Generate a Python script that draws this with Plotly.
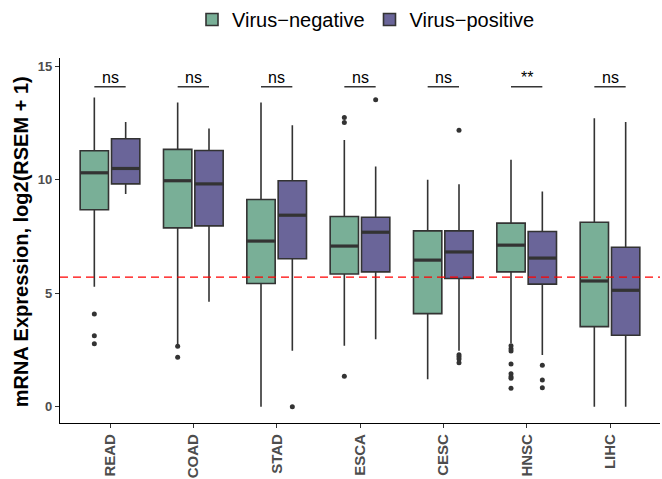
import plotly.graph_objects as go

categories = ["READ", "COAD", "STAD", "ESCA", "CESC", "HNSC", "LIHC"]

neg_q1 = [8.68, 7.88, 5.43, 5.85, 4.10, 5.94, 3.53]
neg_med = [10.31, 9.96, 7.30, 7.08, 6.46, 7.12, 5.54]
neg_q3 = [11.28, 11.34, 9.13, 8.38, 7.75, 8.09, 8.13]
neg_lo = [5.29, 2.72, 0.0, 2.68, 1.21, 2.80, 0.0]
neg_hi = [13.63, 13.41, 13.41, 11.75, 10.0, 10.88, 12.71]

pos_q1 = [9.82, 7.97, 6.52, 5.94, 5.65, 5.40, 3.15]
pos_med = [10.50, 9.82, 8.44, 7.69, 6.82, 6.55, 5.13]
pos_q3 = [11.81, 11.29, 9.96, 8.35, 7.75, 7.72, 7.03]
pos_lo = [9.37, 4.63, 2.46, 2.97, 2.47, 2.28, 0.0]
pos_hi = [12.55, 12.26, 12.40, 10.59, 9.81, 9.49, 12.55]

neg_outliers = {
    "READ": [4.09, 3.13, 2.77],
    "COAD": [2.66, 2.18],
    "ESCA": [12.75, 12.53, 1.34],
    "HNSC": [2.68, 2.55, 2.45, 1.88, 1.45, 1.32, 1.25, 0.81],
}
pos_outliers = {
    "STAD": [0.0],
    "ESCA": [13.53],
    "CESC": [12.19, 2.29, 2.20, 2.10, 1.94],
    "HNSC": [1.83, 1.18, 0.83],
}

sig_labels = ["ns", "ns", "ns", "ns", "ns", "**", "ns"]
ref_value = 5.71
y_title = "mRNA Expression, log2(RSEM + 1)"

series_names = ["Virus\u2212negative", "Virus\u2212positive"]
fill_colors = ["#79AF97", "#6A6599"]

FONT = "Liberation Sans"
OFF = 0.188
BW = 0.34
EDGE = "#333333"

idx = list(range(1, len(categories) + 1))
fig = go.Figure()

groups = [
    (neg_q1, neg_med, neg_q3, neg_lo, neg_hi, neg_outliers, -OFF),
    (pos_q1, pos_med, pos_q3, pos_lo, pos_hi, pos_outliers, OFF),
]

for g, (q1, med, q3, lo, hi, outl, off) in enumerate(groups):
    xs = [i + off for i in idx]
    fig.add_trace(go.Box(
        x=xs, q1=q1, median=med, q3=q3, lowerfence=lo, upperfence=hi,
        width=BW, whiskerwidth=0, fillcolor=fill_colors[g],
        line=dict(color=EDGE, width=1.6), name=series_names[g],
        boxpoints=False, hoverinfo="skip",
    ))

for g, (q1, med, q3, lo, hi, outl, off) in enumerate(groups):
    xs = [i + off for i in idx]
    mx, my = [], []
    for x, m in zip(xs, med):
        mx += [x - BW / 2, x + BW / 2, None]
        my += [m, m, None]
    fig.add_trace(go.Scatter(x=mx, y=my, mode="lines",
                             line=dict(color=EDGE, width=3.2),
                             showlegend=False, hoverinfo="skip"))
    ox, oy = [], []
    for cat, vals in outl.items():
        ci = categories.index(cat) + 1
        for v in vals:
            ox.append(ci + off)
            oy.append(v)
    fig.add_trace(go.Scatter(x=ox, y=oy, mode="markers",
                             marker=dict(color=EDGE, size=5),
                             showlegend=False, hoverinfo="skip"))

for i, lab in zip(idx, sig_labels):
    fig.add_shape(type="line", x0=i - OFF, x1=i + OFF, y0=14.1, y1=14.1,
                  xref="x", yref="y", line=dict(color="black", width=1.2))
    fig.add_annotation(x=i, y=14.1, text=lab, showarrow=False, xref="x", yref="y",
                       yanchor="bottom", yshift=-1,
                       font=dict(family=FONT, size=16, color="black"))

fig.add_shape(type="line", xref="paper", x0=0, x1=1, yref="y", y0=ref_value, y1=ref_value,
              line=dict(color="red", width=1.3, dash="8px,5px"))

fig.add_annotation(text=y_title, textangle=-90, xref="paper", yref="paper",
                   x=-0.065, y=0.495, xanchor="center", yanchor="middle", showarrow=False,
                   font=dict(family=FONT, size=20, color="black", weight="bold"))

fig.update_layout(
    width=662, height=479,
    margin=dict(l=60, r=2, t=58, b=56),
    paper_bgcolor="white", plot_bgcolor="white",
    font=dict(family=FONT, color="black"),
    legend=dict(orientation="h", x=0.51, xanchor="center", y=1.0, yanchor="top",
                yref="container", font=dict(family=FONT, size=20, color="black"),
                itemwidth=30),
    boxmode="overlay",
)

fig.update_xaxes(range=[0.4, 7.6], tickmode="array", tickvals=idx, ticktext=categories,
                 tickangle=-90, showline=True, linecolor="black", linewidth=1.2,
                 ticks="outside", ticklen=4, tickcolor="#333333", showgrid=False, zeroline=False,
                 automargin=False,
                 tickfont=dict(family=FONT, size=15, color="#4D4D4D", weight="bold"))
fig.update_yaxes(range=[-0.72, 15.37], tickvals=[0, 5, 10, 15],
                 showline=True, linecolor="black", linewidth=1.2,
                 ticks="outside", ticklen=4, tickcolor="#333333", showgrid=False, zeroline=False,
                 automargin=False,
                 tickfont=dict(family=FONT, size=13, color="#4D4D4D", weight="bold"))

fig.write_html("out.html")
